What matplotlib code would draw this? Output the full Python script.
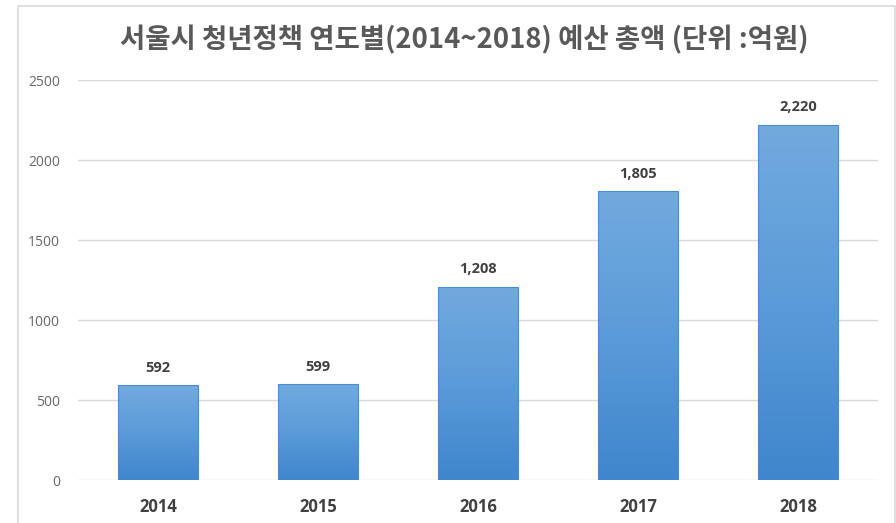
import matplotlib
matplotlib.use("Agg")
import matplotlib.pyplot as plt
import numpy as np
from matplotlib.patches import Rectangle
from matplotlib.colors import LinearSegmentedColormap

plt.rcParams['font.family'] = ['Noto Sans CJK KR', 'DejaVu Sans']

years = ["2014", "2015", "2016", "2017", "2018"]
budgets = [592, 599, 1208, 1805, 2220]
yticks = [0, 500, 1000, 1500, 2000, 2500]
title = "서울시 청년정책 연도별(2014~2018) 예산 총액 (단위 :억원)"

fig = plt.figure(figsize=(8.96, 5.23), dpi=100)
fig.patch.set_facecolor("white")

# outer chart frame
frame = Rectangle((18/896, -0.05), (895-18)/896, 1 - 5.5/523 + 0.05,
                  transform=fig.transFigure, fill=False, edgecolor="#d9d9d9", lw=1.2)
fig.patches.append(frame)

ax = fig.add_axes([78/896, 1-480/523, 800/896, 400/523])
ax.set_xlim(-0.5, len(years)-0.5)
ax.set_ylim(0, 2500)
for s in ax.spines.values():
    s.set_visible(False)
ax.set_yticks(yticks)
ax.set_yticklabels([str(v) for v in yticks], color="#666666", fontsize=10,
                   family=['Open Sans', 'DejaVu Sans'])
ax.yaxis.grid(True, color="#d9d9d9", lw=1)
ax.set_axisbelow(True)
ax.tick_params(axis='y', length=0, pad=13)
ax.tick_params(axis='x', length=0, pad=13)

x = np.arange(len(years))
bars = ax.bar(x, budgets, width=0.5, color="none", edgecolor="none", zorder=2)
cmap = LinearSegmentedColormap.from_list("g", ["#3f86cc", "#5b9bd9", "#72aade"])
grad = np.linspace(0, 1, 256).reshape(-1, 1)
for b in bars:
    x0, w, h = b.get_x(), b.get_width(), b.get_height()
    im = ax.imshow(grad, extent=[x0, x0+w, 0, h], origin="lower", cmap=cmap,
                   aspect="auto", zorder=2)
    im.set_clip_path(b)
    ax.add_patch(Rectangle((x0, 0), w, h, fill=False, edgecolor="#4a8ccf", lw=0.8, zorder=3))
ax.set_aspect("auto")
ax.set_xlim(-0.5, len(years)-0.5)
ax.set_ylim(0, 2500)

ax.set_xticks(x)
ax.set_xticklabels(years, fontsize=12, fontweight="bold", color="#404040",
                   family=['Open Sans', 'DejaVu Sans'])

for xi, v in zip(x, budgets):
    ax.annotate(f"{v:,}", (xi, v), xytext=(0, 7.5), textcoords="offset points",
                ha="center", va="bottom", fontsize=10.5, fontweight="bold", color="#404040",
                family=['Open Sans', 'DejaVu Sans'])

fig.text(464/896, 1-40/523, title, ha="center", va="center", fontsize=19.8,
         fontweight="bold", color="#595959")

fig.savefig("out.png", dpi=100, facecolor="white")
